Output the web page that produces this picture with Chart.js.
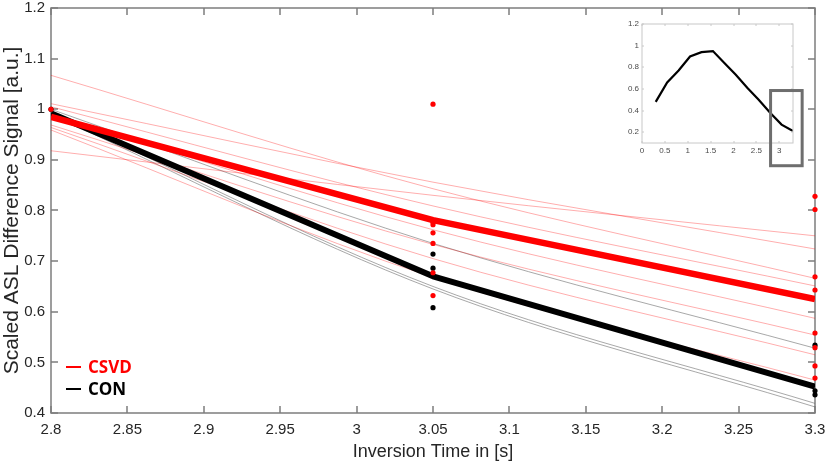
<!DOCTYPE html>
<html>
<head>
<meta charset="utf-8">
<script src="https://cdn.jsdelivr.net/npm/chart.js@4.4.1/dist/chart.umd.min.js"></script>
<style>
  html, body { margin: 0; padding: 0; background: #fff; }
  #wrap { position: relative; width: 829px; height: 465px; }
  #main, #frame { position: absolute; left: 0; top: 0; }
  #inset { position: absolute; left: 615px; top: 15px; }
  .leg { position: absolute; left: 66px; font: bold 17px 'Open Sans', sans-serif; line-height: 20px; }
  .leg i { display: inline-block; width: 15px; height: 2px; vertical-align: middle; margin-right: 7px; position: relative; top: -1px; }
</style>
</head>
<body>
<div id="wrap">
  <canvas id="frame" width="829" height="465"></canvas>
  <canvas id="main" width="829" height="465"></canvas>
  <canvas id="inset" width="200" height="160"></canvas>
  <div class="leg" style="top:357px;color:#ff0000"><i style="background:#ff0000"></i>CSVD</div>
  <div class="leg" style="top:379px;color:#000"><i style="background:#000"></i>CON</div>
</div>
<script>
// Messzeitpunkte (Inversionszeiten)
const timePoints = [2.8, 3.05, 3.3];

// Mittelwerte der Gruppen
const csvdMean = [0.985, 0.781, 0.625];
const conMean = [0.992, 0.670, 0.452];

// Einzelne Fits CSVD (Werte bei 2.8 / 3.05 / 3.3)
const csvdFits = [
    [1.067, 0.843, 0.666],
    [0.918, 0.830, 0.750],
    [1.011, 0.856, 0.724],
    [1.005, 0.809, 0.651],
    [0.990, 0.762, 0.587],
    [0.969, 0.733, 0.554],
    [0.964, 0.705, 0.515],
    [0.959, 0.668, 0.465]
];

// Einzelne Fits CON
const conFits = [
    [1.000, 0.735, 0.528],
    [0.995, 0.650, 0.419],
    [0.990, 0.645, 0.412]
];

// Messpunkte
const csvdDots280 = [1.0];
const csvdDots305 = [1.01, 0.780, 0.777, 0.772, 0.756, 0.735, 0.677, 0.632];
const csvdDots330 = [0.828, 0.802, 0.669, 0.643, 0.558, 0.529, 0.493, 0.469];
const conDots280 = [1.0];
const conDots305 = [0.714, 0.686, 0.608];
const conDots330 = [0.534, 0.444, 0.436];

// Achsenbeschriftung
const xTicks = [2.8, 2.85, 2.9, 2.95, 3, 3.05, 3.1, 3.15, 3.2, 3.25, 3.3];
const xTickLabels = ['2.8', '2.85', '2.9', '2.95', '3', '3.05', '3.1', '3.15', '3.2', '3.25', '3.3'];
const yTicks = [0.4, 0.5, 0.6, 0.7, 0.8, 0.9, 1, 1.1, 1.2];
const yTickLabels = ['0.4', '0.5', '0.6', '0.7', '0.8', '0.9', '1', '1.1', '1.2'];

// Inset: gesamte Signalkurve
const insetTime = [0.3, 0.55, 0.8, 1.05, 1.3, 1.55, 1.8, 2.05, 2.3, 2.55, 2.8, 3.05, 3.3];
const insetSignal = [0.48, 0.66, 0.77, 0.90, 0.94, 0.95, 0.84, 0.73, 0.61, 0.50, 0.38, 0.27, 0.21];
const insetXTicks = [0, 0.5, 1, 1.5, 2, 2.5, 3];
const insetXLabels = ['0', '0.5', '1', '1.5', '2', '2.5', '3'];
const insetYTicks = [0.2, 0.4, 0.6, 0.8, 1, 1.2];
const insetYLabels = ['0.2', '0.4', '0.6', '0.8', '1', '1.2'];
// markierter Bereich im Inset (in Inset-Koordinaten)
const insetBoxX = [2.81, 3.5];
const insetBoxY = [0.585, -0.11];

const axisFont = "'Liberation Sans', Arial, sans-serif";

function toXY(xs, ys) {
    return ys.map((v, i) => ({ x: xs[i], y: v }));
}
function column(t, ys) {
    return ys.map(v => ({ x: t, y: v }));
}

// Rahmen + nach innen zeigende Ticks (MATLAB-Stil)
// target: eigene Zeichenflaeche (unter dem Chart) oder null fuer die Chart-Canvas
function makeBoxTicks(color, width, len, target) {
    return {
        id: 'boxTicks',
        afterDraw(chart) {
            const ctx = target ? target.getContext('2d') : chart.ctx;
            const a = chart.chartArea;
            const sx = chart.scales.x, sy = chart.scales.y;
            const l = Math.round(a.left), r = Math.round(a.right);
            const t = Math.round(a.top), b = Math.round(a.bottom);
            if (target) ctx.clearRect(0, 0, target.width, target.height);
            ctx.save();
            ctx.strokeStyle = color;
            ctx.lineWidth = width;
            ctx.strokeRect(l, t, r - l, b - t);
            ctx.beginPath();
            sx.ticks.forEach(tk => {
                const px = Math.round(sx.getPixelForValue(tk.value));
                ctx.moveTo(px, b); ctx.lineTo(px, b - len);
                ctx.moveTo(px, t); ctx.lineTo(px, t + len);
            });
            sy.ticks.forEach(tk => {
                const py = Math.round(sy.getPixelForValue(tk.value));
                ctx.moveTo(l, py); ctx.lineTo(l + len, py);
                ctx.moveTo(r, py); ctx.lineTo(r - len, py);
            });
            ctx.stroke();
            ctx.restore();
        }
    };
}

// Markierungsrechteck im Inset
const zoomBox = {
    id: 'zoomBox',
    afterDraw(chart) {
        const ctx = chart.ctx;
        const sx = chart.scales.x, sy = chart.scales.y;
        const x0 = sx.getPixelForValue(insetBoxX[0]);
        const x1 = sx.getPixelForValue(insetBoxX[1]);
        const y0 = sy.getPixelForValue(insetBoxY[0]);
        const y1 = sy.getPixelForValue(insetBoxY[1]);
        ctx.save();
        ctx.strokeStyle = '#6e6e6e';
        ctx.lineWidth = 3;
        ctx.strokeRect(x0, y0, x1 - x0, y1 - y0);
        ctx.restore();
    }
};

// keine automatischen Randabstaende durch Tick-Labels
function noPadX(s, h) {
    s.height = h;
    s.paddingLeft = 0; s.paddingRight = 0;
}
function noPadY(s, w) {
    s.width = w;
    s.paddingTop = 0; s.paddingBottom = 0;
}

function setupMainChart() {
    const datasets = [];

    // Messpunkte (oben)
    const dotStyle = { type: 'scatter', showLine: false, pointRadius: 2.6, pointBorderWidth: 0, clip: false };
    datasets.push(Object.assign({ label: 'CSVD Punkte', order: 0, backgroundColor: '#ff0000',
        data: column(2.8, csvdDots280).concat(column(3.05, csvdDots305), column(3.3, csvdDots330)) }, dotStyle));
    datasets.push(Object.assign({ label: 'CON Punkte', order: 1, backgroundColor: '#000000',
        data: column(2.8, conDots280).concat(column(3.05, conDots305), column(3.3, conDots330)) }, dotStyle));

    // Mittelwerte
    datasets.push({ type: 'line', label: 'CSVD', order: 2, data: toXY(timePoints, csvdMean),
        borderColor: '#ff0000', borderWidth: 6.5, pointRadius: 0, tension: 0, borderJoinStyle: 'round' });
    datasets.push({ type: 'line', label: 'CON', order: 3, data: toXY(timePoints, conMean),
        borderColor: '#000000', borderWidth: 6, pointRadius: 0, tension: 0, borderJoinStyle: 'round' });

    // Einzelkurven
    csvdFits.forEach((f, i) => {
        datasets.push({ type: 'line', label: 'CSVD ' + (i + 1), order: 4, data: toXY(timePoints, f),
            borderColor: 'rgba(255, 0, 0, 0.32)', borderWidth: 1, pointRadius: 0,
            cubicInterpolationMode: 'monotone' });
    });
    conFits.forEach((f, i) => {
        datasets.push({ type: 'line', label: 'CON ' + (i + 1), order: 5, data: toXY(timePoints, f),
            borderColor: 'rgba(110, 110, 110, 0.6)', borderWidth: 1, pointRadius: 0,
            cubicInterpolationMode: 'monotone' });
    });

    new Chart(document.getElementById('main'), {
        type: 'line',
        data: { datasets: datasets },
        options: {
            responsive: false,
            animation: false,
            layout: { padding: { top: 8, right: 14, left: 0, bottom: 0 } },
            plugins: {
                legend: { display: false },
                tooltip: { enabled: false }
            },
            scales: {
                x: {
                    type: 'linear',
                    min: 2.8,
                    max: 3.3,
                    afterBuildTicks: s => { s.ticks = xTicks.map(v => ({ value: v })); },
                    afterFit: s => noPadX(s, 52),
                    grid: { display: false, drawTicks: false, tickLength: 0 },
                    border: { display: false },
                    ticks: {
                        autoSkip: false,
                        maxRotation: 0,
                        padding: 8,
                        color: '#262626',
                        font: { family: axisFont, size: 15 },
                        callback: (v, i) => xTickLabels[i]
                    },
                    title: {
                        display: true,
                        text: 'Inversion Time in [s]',
                        color: '#262626',
                        font: { family: axisFont, size: 18 },
                        padding: { top: 0, bottom: 2 }
                    }
                },
                y: {
                    min: 0.4,
                    max: 1.2,
                    afterBuildTicks: s => { s.ticks = yTicks.map(v => ({ value: v })); },
                    afterFit: s => noPadY(s, 51),
                    grid: { display: false, drawTicks: false, tickLength: 0 },
                    border: { display: false },
                    ticks: {
                        padding: 6,
                        color: '#262626',
                        font: { family: axisFont, size: 15 },
                        callback: (v, i) => yTickLabels[i]
                    },
                    title: {
                        display: true,
                        text: 'Scaled ASL Difference Signal [a.u.]',
                        color: '#262626',
                        font: { family: axisFont, size: 21 },
                        padding: { top: 0, bottom: 0 }
                    }
                }
            }
        },
        plugins: [makeBoxTicks('#7d7d7d', 1.5, 7, document.getElementById('frame'))]
    });
}

function setupInsetChart() {
    new Chart(document.getElementById('inset'), {
        type: 'line',
        data: {
            datasets: [{
                label: 'Signal',
                data: toXY(insetTime, insetSignal),
                borderColor: '#000000',
                borderWidth: 2.2,
                pointRadius: 0,
                tension: 0
            }]
        },
        options: {
            responsive: false,
            animation: false,
            layout: { padding: { top: 9, right: 22, left: 0, bottom: 0 } },
            plugins: {
                legend: { display: false },
                tooltip: { enabled: false }
            },
            scales: {
                x: {
                    type: 'linear',
                    min: 0,
                    max: 3.3,
                    afterBuildTicks: s => { s.ticks = insetXTicks.map(v => ({ value: v })); },
                    afterFit: s => noPadX(s, 32),
                    grid: { display: false, drawTicks: false, tickLength: 0 },
                    border: { display: false },
                    ticks: {
                        autoSkip: false,
                        maxRotation: 0,
                        padding: 3,
                        color: '#4a4a4a',
                        font: { family: axisFont, size: 8 },
                        callback: (v, i) => insetXLabels[i]
                    }
                },
                y: {
                    min: 0.1,
                    max: 1.2,
                    afterBuildTicks: s => { s.ticks = insetYTicks.map(v => ({ value: v })); },
                    afterFit: s => noPadY(s, 27),
                    grid: { display: false, drawTicks: false, tickLength: 0 },
                    border: { display: false },
                    ticks: {
                        padding: 3,
                        color: '#4a4a4a',
                        font: { family: axisFont, size: 8 },
                        callback: (v, i) => insetYLabels[i]
                    }
                }
            }
        },
        plugins: [makeBoxTicks('#c8c8c8', 1, 2, null), zoomBox]
    });
}

document.addEventListener('DOMContentLoaded', function() {
    setupMainChart();
    setupInsetChart();
});
</script>
</body>
</html>
